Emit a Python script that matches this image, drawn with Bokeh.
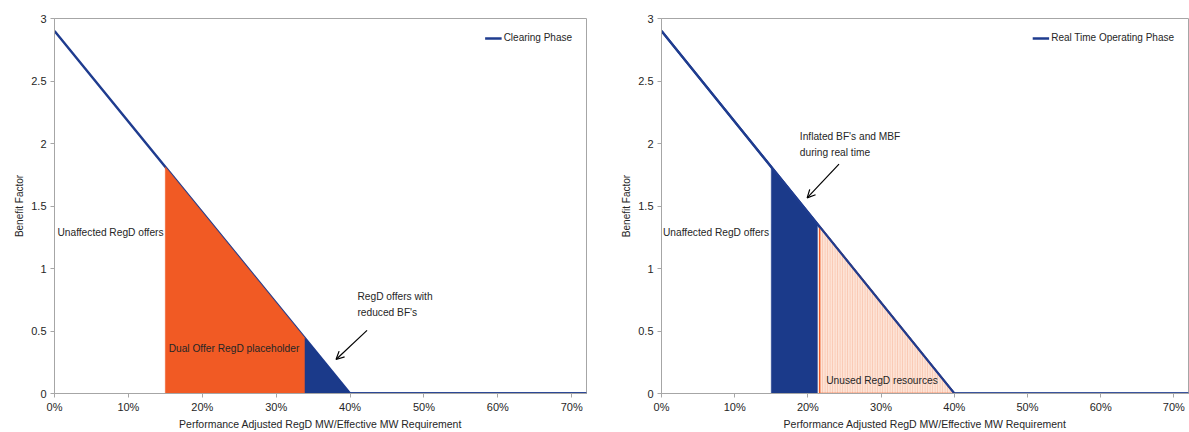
from bokeh.plotting import figure
from bokeh.layouts import row
from bokeh.models import Range1d, FixedTicker, CustomJSTickFormatter, Arrow, OpenHead, Legend, LegendItem
from bokeh.core.properties import value
from bokeh.embed import file_html
from bokeh.resources import INLINE

# ---- data ----
curve_x = [0.0, 0.40, 0.72]
curve_y = [2.9, 0.0, 0.0]

# Clearing phase areas
dual_x = [0.15, 0.15, 0.339, 0.339]
dual_y = [0.0, 1.8125, 0.442, 0.0]
reduced_x = [0.339, 0.339, 0.40]
reduced_y = [0.0, 0.442, 0.0]

# Real time operating phase areas
inflated_x = [0.15, 0.15, 0.213, 0.213]
inflated_y = [0.0, 1.8125, 1.356, 0.0]
unused_x = [0.216, 0.216, 0.40]
unused_y = [0.0, 1.335, 0.0]

y_ticks = [0, 0.5, 1, 1.5, 2, 2.5, 3]
x_ticks = [0, 0.1, 0.2, 0.3, 0.4, 0.5, 0.6, 0.7]

LINE = "#1F3C8F"
BLUE = "#1B3A8A"
ORANGE = "#F15A24"
FONT = "Liberation Sans"
TXT = "#262626"


def base(width, left_border, right_border, legend_label):
    p = figure(width=width, height=432, output_backend="svg", toolbar_location=None,
               x_range=Range1d(0, 0.72), y_range=Range1d(0, 3),
               min_border_left=left_border, min_border_right=right_border,
               min_border_top=18, min_border_bottom=38)
    p.grid.visible = False
    p.outline_line_color = "#A6A6A6"
    p.outline_line_width = 1
    p.background_fill_color = "white"
    for ax in (p.xaxis[0], p.yaxis[0]):
        ax.axis_line_color = "#A6A6A6"
        ax.major_tick_line_color = "#A6A6A6"
        ax.minor_tick_line_color = None
        ax.major_label_text_font = FONT
        ax.major_label_text_font_size = "11px"
        ax.major_label_text_color = TXT
        ax.axis_label_text_font = FONT
        ax.axis_label_text_font_style = "normal"
        ax.axis_label_text_color = TXT
    p.xaxis.ticker = FixedTicker(ticks=x_ticks)
    p.xaxis.formatter = CustomJSTickFormatter(code="return Math.round(tick*100) + '%';")
    p.xaxis.major_tick_in = 0
    p.xaxis.major_tick_out = 4
    p.xaxis.major_label_standoff = 3
    p.xaxis.axis_label = "Performance Adjusted RegD MW/Effective MW Requirement"
    p.xaxis.axis_label_text_font_size = "10.5px"
    p.xaxis.axis_label_standoff = 2
    p.yaxis.ticker = FixedTicker(ticks=y_ticks)
    p.yaxis.formatter = CustomJSTickFormatter(code="return String(tick);")
    p.yaxis.major_tick_in = 0
    p.yaxis.major_tick_out = 4
    p.yaxis.major_label_standoff = 4
    p.yaxis.axis_label = "Benefit Factor"
    p.yaxis.axis_label_text_font_size = "10px"
    p.yaxis.axis_label_standoff = 3

    r = p.line(curve_x, curve_y, line_color=LINE, line_width=2.5)
    leg = Legend(items=[LegendItem(label=legend_label, renderers=[r])],
                 location="top_right", border_line_color=None, background_fill_alpha=0,
                 label_text_font=FONT, label_text_font_size="10px", label_text_color=TXT,
                 glyph_width=17, glyph_height=10, margin=14, padding=5, label_standoff=2)
    p.add_layout(leg)
    return p


def txt(p, x, y, s, size="10.2px"):
    p.text([x], [y], text=[s], text_font=value(FONT), text_font_size=size,
           text_color=TXT, text_baseline="middle", text_align="left")


# ---- left chart ----
p1 = base(598, 54, 12, "Clearing Phase")
p1.patch(dual_x, dual_y, fill_color=ORANGE, line_color=ORANGE, line_width=0.5)
p1.patch(reduced_x, reduced_y, fill_color=BLUE, line_color=BLUE, line_width=0.5)
p1.line(curve_x[1:], curve_y[1:], line_color=LINE, line_width=2.5)
txt(p1, 0.004, 1.285, "Unaffected RegD offers")
txt(p1, 0.1545, 0.36, "Dual Offer RegD placeholder")
txt(p1, 0.41, 0.78, "RegD offers with")
txt(p1, 0.41, 0.65, "reduced BF's")
p1.add_layout(Arrow(x_start=0.423, y_start=0.505, x_end=0.381, y_end=0.272,
                    line_color="black", line_width=1.2,
                    end=OpenHead(size=8, line_color="black", line_width=1.2)))

# ---- right chart ----
p2 = base(591, 63, 1, "Real Time Operating Phase")
p2.patch(inflated_x, inflated_y, fill_color=BLUE, line_color=BLUE, line_width=0.5)
p2.patch(unused_x, unused_y, fill_color="#FDE3D6", line_color=ORANGE, line_width=1.5,
         hatch_pattern="|", hatch_color="#F8BBA0", hatch_scale=2.5, hatch_weight=0.7)
p2.line(curve_x, curve_y, line_color=LINE, line_width=2.0)
txt(p2, 0.002, 1.285, "Unaffected RegD offers")
txt(p2, 0.189, 2.06, "Inflated BF's and MBF")
txt(p2, 0.189, 1.93, "during real time")
txt(p2, 0.225, 0.105, "Unused RegD resources")
p2.add_layout(Arrow(x_start=0.2425, y_start=1.835, x_end=0.199, y_end=1.565,
                    line_color="black", line_width=1.2,
                    end=OpenHead(size=8, line_color="black", line_width=1.2)))

layout = row(p1, p2)
open("out.html", "w").write(file_html(layout, INLINE))
